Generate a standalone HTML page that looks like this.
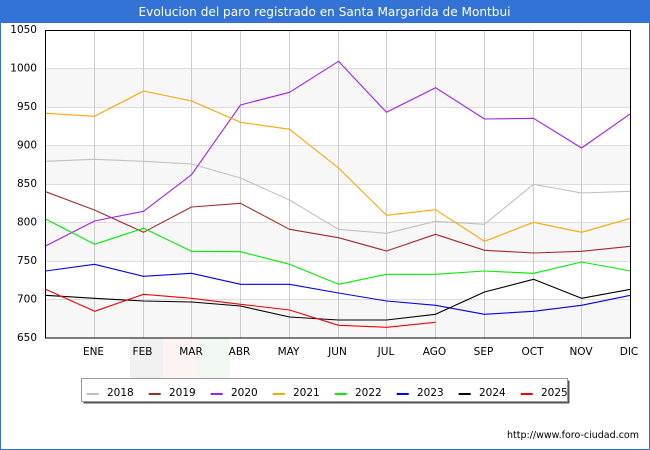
<!DOCTYPE html>
<html><head><meta charset="utf-8"><style>
html,body{margin:0;padding:0;background:#fff;}
svg{display:block;}
text{font-family:"DejaVu Sans","Liberation Sans",sans-serif;}
</style></head><body>
<svg width="650" height="450" viewBox="0 0 650 450" xmlns="http://www.w3.org/2000/svg">
<rect x="0" y="0" width="650" height="450" fill="#fff"/>
<rect x="0" y="0" width="650" height="23" fill="#3473d6"/>
<rect x="0" y="0" width="1" height="450" fill="#3473d6"/>
<rect x="649" y="0" width="1" height="450" fill="#3473d6"/>
<rect x="0" y="449" width="650" height="1" fill="#3473d6"/>
<text x="324.5" y="16" font-size="12" fill="#fff" text-anchor="middle" textLength="372" lengthAdjust="spacingAndGlyphs">Evolucion del paro registrado en Santa Margarida de Montbui</text>

<!-- watermark -->
<rect x="130" y="338" width="33" height="40" fill="#f1f1f1"/>
<rect x="163" y="338" width="34" height="40" fill="#fdf3f3"/>
<rect x="197" y="338" width="33" height="40" fill="#f1f8f1"/>

<!-- bands -->
<rect x="45.5" y="68.5" width="585" height="38.5" fill="#f7f7f7"/>
<rect x="45.5" y="145.5" width="585" height="38.5" fill="#f7f7f7"/>
<rect x="45.5" y="222.5" width="585" height="38.5" fill="#f7f7f7"/>
<rect x="45.5" y="299.5" width="585" height="38.5" fill="#f7f7f7"/>

<g stroke="#dddddd" stroke-width="1">
<line x1="45" y1="68.5" x2="630" y2="68.5"/>
<line x1="45" y1="107.5" x2="630" y2="107.5"/>
<line x1="45" y1="145.5" x2="630" y2="145.5"/>
<line x1="45" y1="184.5" x2="630" y2="184.5"/>
<line x1="45" y1="222.5" x2="630" y2="222.5"/>
<line x1="45" y1="261.5" x2="630" y2="261.5"/>
<line x1="45" y1="299.5" x2="630" y2="299.5"/>
</g>
<g stroke="#cccccc" stroke-width="1">
<line x1="94.5" y1="30" x2="94.5" y2="338"/>
<line x1="143.5" y1="30" x2="143.5" y2="338"/>
<line x1="191.5" y1="30" x2="191.5" y2="338"/>
<line x1="240.5" y1="30" x2="240.5" y2="338"/>
<line x1="289.5" y1="30" x2="289.5" y2="338"/>
<line x1="338.5" y1="30" x2="338.5" y2="338"/>
<line x1="386.5" y1="30" x2="386.5" y2="338"/>
<line x1="435.5" y1="30" x2="435.5" y2="338"/>
<line x1="484.5" y1="30" x2="484.5" y2="338"/>
<line x1="533.5" y1="30" x2="533.5" y2="338"/>
<line x1="581.5" y1="30" x2="581.5" y2="338"/>
</g>

<g fill="none" stroke-width="1.1" stroke-linejoin="round">
<polyline stroke="#c0c0c0" points="45.5,161.3 94.5,159.3 143.5,161.3 191.5,164 240.5,178 289.5,200 338.5,229.3 386.5,233.3 435.5,221.3 484.5,224.3 533.5,184.3 581.5,193 630.5,191.3"/>
<polyline stroke="#a52a2a" points="45.5,191.7 94.5,210 143.5,232.3 191.5,207 240.5,203.3 289.5,229.3 338.5,237.7 386.5,251 435.5,234.3 484.5,250.3 533.5,253 581.5,251.3 630.5,246.3"/>
<polyline stroke="#a020f0" points="45.5,246 94.5,221 143.5,211.3 191.5,174.7 240.5,105 289.5,92.3 338.5,61.3 386.5,112.3 435.5,87.7 484.5,119 533.5,118.3 581.5,148 630.5,113.7"/>
<polyline stroke="#ffa500" points="45.5,113.3 94.5,116.3 143.5,91 191.5,101 240.5,122.3 289.5,129.3 338.5,168 386.5,215.3 435.5,209.7 484.5,241.3 533.5,222.3 581.5,232.3 630.5,218.3"/>
<polyline stroke="#00ee00" points="45.5,219 94.5,244.3 143.5,228.3 191.5,251.3 240.5,251.7 289.5,264.3 338.5,284.3 386.5,274.3 435.5,274.3 484.5,271 533.5,273.3 581.5,262 630.5,271"/>
<polyline stroke="#0000ff" points="45.5,271 94.5,264.3 143.5,276.3 191.5,273.3 240.5,284.3 289.5,284.3 338.5,293 386.5,301 435.5,305.3 484.5,314.3 533.5,311.3 581.5,305.3 630.5,295.3"/>
<polyline stroke="#000000" points="45.5,295.3 94.5,298.3 143.5,301 191.5,302 240.5,306 289.5,317 338.5,320 386.5,320 435.5,314.3 484.5,292 533.5,279.3 581.5,298.3 630.5,289.3"/>
<polyline stroke="#ff0000" points="45.5,289.3 94.5,311.3 143.5,294.3 191.5,298.3 240.5,304.3 289.5,310 338.5,325.3 386.5,327.3 435.5,322.3"/>
</g>

<rect x="45.5" y="30.5" width="585" height="307.5" fill="none" stroke="#000" stroke-width="1"/>

<g font-size="10.5" fill="#000" text-anchor="end">
<text x="37" y="33">1050</text>
<text x="37" y="71.5">1000</text>
<text x="37" y="110">950</text>
<text x="37" y="148.5">900</text>
<text x="37" y="187">850</text>
<text x="37" y="225.5">800</text>
<text x="37" y="264">750</text>
<text x="37" y="302.5">700</text>
<text x="37" y="341">650</text>
</g>
<g font-size="10.5" fill="#000" text-anchor="middle">
<text x="93.5" y="355">ENE</text>
<text x="142.5" y="355">FEB</text>
<text x="191" y="355">MAR</text>
<text x="239.5" y="355">ABR</text>
<text x="288.5" y="355">MAY</text>
<text x="337.5" y="355">JUN</text>
<text x="386" y="355">JUL</text>
<text x="434.5" y="355">AGO</text>
<text x="483.5" y="355">SEP</text>
<text x="532.5" y="355">OCT</text>
<text x="581" y="355">NOV</text>
<text x="629" y="355">DIC</text>
</g>

<!-- legend -->
<rect x="83.5" y="380.5" width="486" height="23" fill="#555"/>
<rect x="81.5" y="378.5" width="486" height="23" fill="#fff" stroke="#999" stroke-width="1"/>
<g stroke-width="2">
<line x1="86.7" y1="394" x2="98.7" y2="394" stroke="#c0c0c0"/>
<line x1="148.7" y1="394" x2="160.7" y2="394" stroke="#a52a2a"/>
<line x1="210.7" y1="394" x2="222.7" y2="394" stroke="#a020f0"/>
<line x1="272.7" y1="394" x2="284.7" y2="394" stroke="#ffa500"/>
<line x1="334.7" y1="394" x2="346.7" y2="394" stroke="#00ee00"/>
<line x1="396.7" y1="394" x2="408.7" y2="394" stroke="#0000ff"/>
<line x1="458.7" y1="394" x2="470.7" y2="394" stroke="#000000"/>
<line x1="520.7" y1="394" x2="532.7" y2="394" stroke="#ff0000"/>
</g>
<g font-size="10.5" fill="#000">
<text x="107" y="396">2018</text>
<text x="169" y="396">2019</text>
<text x="231" y="396">2020</text>
<text x="293" y="396">2021</text>
<text x="355" y="396">2022</text>
<text x="417" y="396">2023</text>
<text x="479" y="396">2024</text>
<text x="541" y="396">2025</text>
</g>

<text x="639" y="438" font-size="9.4" fill="#000" text-anchor="end" textLength="132" lengthAdjust="spacingAndGlyphs">http://www.foro-ciudad.com</text>
</svg>
</body></html>
